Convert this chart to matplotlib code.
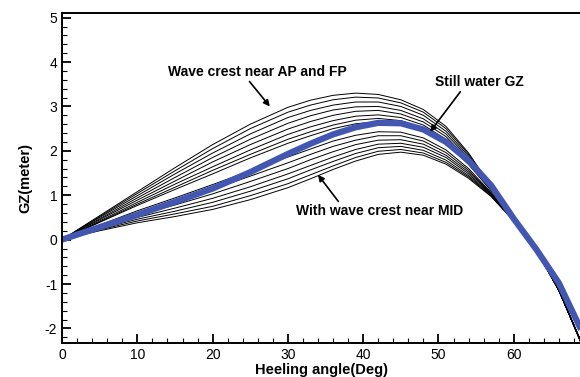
import matplotlib.pyplot as plt
from matplotlib.ticker import MultipleLocator

plt.rcParams['font.family'] = ['Liberation Sans', 'DejaVu Sans']
plt.rcParams['axes.unicode_minus'] = False

# heeling angles (deg) shared by all curves
angles = [0, 5, 10, 15, 20, 25, 30, 33, 36, 39, 42, 45, 48, 51, 54, 57, 60, 63, 66, 69]

# GZ curves in waves (thin black lines), from crest near AP/FP down to crest near MID
gz_wave_1 = [0, 0.54, 1.08, 1.62, 2.14, 2.60, 2.98, 3.14, 3.25, 3.30, 3.27, 3.15, 2.93, 2.55, 1.95, 1.20, 0.50, -0.22, -1.15, -2.32]
gz_wave_2 = [0, 0.52, 1.04, 1.55, 2.05, 2.50, 2.87, 3.03, 3.15, 3.21, 3.19, 3.08, 2.87, 2.50, 1.92, 1.19, 0.50, -0.22, -1.15, -2.32]
gz_wave_3 = [0, 0.50, 0.99, 1.48, 1.95, 2.38, 2.75, 2.91, 3.03, 3.10, 3.10, 3.00, 2.80, 2.44, 1.88, 1.17, 0.49, -0.22, -1.15, -2.32]
gz_wave_4 = [0, 0.47, 0.94, 1.40, 1.85, 2.26, 2.62, 2.79, 2.92, 2.99, 3.00, 2.91, 2.72, 2.38, 1.84, 1.15, 0.48, -0.23, -1.15, -2.33]
gz_wave_5 = [0, 0.45, 0.89, 1.32, 1.75, 2.14, 2.49, 2.66, 2.80, 2.89, 2.91, 2.83, 2.65, 2.32, 1.80, 1.14, 0.48, -0.23, -1.15, -2.33]
gz_wave_6 = [0, 0.42, 0.84, 1.25, 1.64, 2.02, 2.37, 2.54, 2.68, 2.78, 2.81, 2.75, 2.58, 2.26, 1.76, 1.12, 0.47, -0.23, -1.14, -2.33]
gz_wave_7 = [0, 0.40, 0.80, 1.18, 1.56, 1.92, 2.26, 2.43, 2.58, 2.69, 2.73, 2.68, 2.52, 2.21, 1.72, 1.11, 0.47, -0.23, -1.14, -2.33]
gz_wave_8 = [0, 0.39, 0.77, 1.13, 1.48, 1.84, 2.17, 2.34, 2.50, 2.61, 2.66, 2.62, 2.47, 2.17, 1.69, 1.10, 0.46, -0.23, -1.14, -2.33]
gz_wave_9 = [0, 0.33, 0.65, 0.94, 1.24, 1.55, 1.86, 2.04, 2.22, 2.35, 2.43, 2.42, 2.29, 2.02, 1.60, 1.06, 0.45, -0.24, -1.14, -2.34]
gz_wave_10 = [0, 0.31, 0.60, 0.86, 1.13, 1.43, 1.73, 1.92, 2.10, 2.24, 2.34, 2.34, 2.22, 1.96, 1.56, 1.04, 0.45, -0.24, -1.14, -2.34]
gz_wave_11 = [0, 0.28, 0.55, 0.78, 1.03, 1.31, 1.60, 1.80, 1.98, 2.14, 2.24, 2.25, 2.15, 1.90, 1.52, 1.03, 0.44, -0.24, -1.13, -2.34]
gz_wave_12 = [0, 0.26, 0.50, 0.71, 0.93, 1.19, 1.48, 1.67, 1.86, 2.03, 2.15, 2.17, 2.08, 1.85, 1.48, 1.01, 0.43, -0.25, -1.13, -2.35]
gz_wave_13 = [0, 0.24, 0.46, 0.64, 0.84, 1.09, 1.37, 1.57, 1.76, 1.94, 2.07, 2.10, 2.01, 1.79, 1.44, 1.00, 0.43, -0.25, -1.13, -2.35]
gz_wave_14 = [0, 0.22, 0.42, 0.58, 0.75, 0.99, 1.26, 1.46, 1.66, 1.85, 1.99, 2.03, 1.95, 1.74, 1.41, 0.98, 0.42, -0.25, -1.13, -2.35]
gz_wave_15 = [0, 0.20, 0.38, 0.52, 0.68, 0.90, 1.17, 1.37, 1.58, 1.77, 1.92, 1.97, 1.90, 1.70, 1.38, 0.97, 0.42, -0.25, -1.13, -2.35]

# still water GZ (thick blue line)
gz_still = [0, 0.28, 0.56, 0.85, 1.15, 1.52, 1.93, 2.16, 2.37, 2.53, 2.63, 2.62, 2.48, 2.20, 1.78, 1.22, 0.47, -0.22, -0.98, -2.05]

wave_curves = [gz_wave_1, gz_wave_2, gz_wave_3, gz_wave_4, gz_wave_5,
               gz_wave_6, gz_wave_7, gz_wave_8, gz_wave_9, gz_wave_10,
               gz_wave_11, gz_wave_12, gz_wave_13, gz_wave_14, gz_wave_15]

fig = plt.figure(figsize=(5.8, 3.77), dpi=100)
ax = fig.add_axes([0.107, 0.090, 0.893, 0.875])

for gz in wave_curves:
    ax.plot(angles, gz, color="black", lw=0.7, solid_joinstyle="round")
ax.plot(angles, gz_still, color="#4257b2", lw=4.5, solid_joinstyle="round", solid_capstyle="butt")

ax.set_xlim(0, 68.8)
ax.set_ylim(-2.33, 5.1)

ax.xaxis.set_major_locator(MultipleLocator(10))
ax.xaxis.set_minor_locator(MultipleLocator(2))
ax.yaxis.set_major_locator(MultipleLocator(1))
ax.yaxis.set_minor_locator(MultipleLocator(0.2))
ax.tick_params(which="major", direction="in", length=6.5, width=1.3, labelsize=10,
               top=False, right=False)
ax.tick_params(which="minor", direction="in", length=3.5, width=0.8,
               top=False, right=False)

for side in ["left", "bottom", "top"]:
    ax.spines[side].set_linewidth(1.4)
ax.spines["right"].set_visible(False)

ax.set_xlabel("Heeling angle(Deg)", fontsize=10.5, fontweight="bold", labelpad=1)
ax.set_ylabel("GZ(meter)", fontsize=10.5, fontweight="bold", labelpad=9)

arrow = dict(arrowstyle="-|>", color="black", lw=1.2, mutation_scale=9, shrinkA=0, shrinkB=0)
ax.annotate("", xy=(27.6, 3.0), xytext=(24.9, 3.56), arrowprops=arrow)
ax.text(26.0, 3.78, "Wave crest near AP and FP", ha="center", va="center",
        fontsize=10, fontweight="bold")

ax.annotate("", xy=(48.9, 2.43), xytext=(52.9, 3.33), arrowprops=arrow)
ax.text(55.5, 3.56, "Still water GZ", ha="center", va="center",
        fontsize=10, fontweight="bold")

ax.annotate("", xy=(34.0, 1.46), xytext=(36.7, 0.86), arrowprops=arrow)
ax.text(42.2, 0.65, "With wave crest near MID", ha="center", va="center",
        fontsize=10, fontweight="bold")

fig.savefig("out.png", dpi=100)
